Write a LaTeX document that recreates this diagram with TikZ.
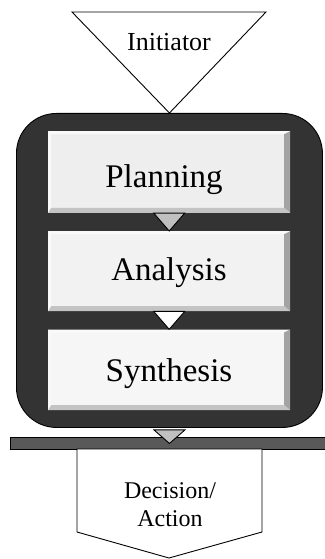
\documentclass[tikz,border=0pt]{standalone}
\usepackage{fontspec}
\setmainfont{Liberation Serif}
\usetikzlibrary{calc}

\definecolor{framefill}{HTML}{333333}
\definecolor{barfill}{HTML}{595959}
\definecolor{faceA}{HTML}{EEEEEE}
\definecolor{faceB}{HTML}{F2F2F2}
\definecolor{faceC}{HTML}{F6F6F6}
\definecolor{bevlight}{HTML}{FAFAFA}
\definecolor{bevright}{HTML}{A3A3A3}
\definecolor{bevbottom}{HTML}{C4C4C4}
\definecolor{arrowgray}{HTML}{C0C0C0}

\tikzset{
  outline/.style={draw=black, line width=0.9pt, line join=miter},
  framebox/.style={rectangle, outline, fill=framefill, rounded corners=40pt,
    minimum width=306pt, minimum height=314pt, anchor=north west, inner sep=0pt},
  bevelbox/.style={rectangle, inner sep=0pt, minimum width=242pt, anchor=north west,
    path picture={
      \coordinate (bbsw) at (path picture bounding box.south west);
      \coordinate (bbne) at (path picture bounding box.north east);
      \coordinate (bbnw) at (bbsw |- bbne);
      \coordinate (bbse) at (bbsw -| bbne);
      \fill[bevlight] (bbnw) -- (bbne) -- ($(bbne)+(-6pt,-3pt)$) -- ($(bbnw)+(3pt,-3pt)$) -- cycle;
      \fill[bevlight] (bbnw) -- ($(bbnw)+(3pt,-3pt)$) -- ($(bbsw)+(3pt,5pt)$) -- (bbsw) -- cycle;
      \fill[bevright] (bbne) -- (bbse) -- ($(bbse)+(-6pt,5pt)$) -- ($(bbne)+(-6pt,-3pt)$) -- cycle;
      \fill[bevbottom] (bbsw) -- (bbse) -- ($(bbse)+(-6pt,5pt)$) -- ($(bbsw)+(3pt,5pt)$) -- cycle;
    }},
  boxtxt/.style={anchor=base, inner sep=0pt, font=\fontsize{33}{38}\selectfont},
  flowtip/.style={outline},
  barbox/.style={rectangle, outline, fill=barfill, minimum width=318pt,
    minimum height=12pt, anchor=north west, inner sep=0pt},
}

\begin{document}
\begin{tikzpicture}[x=1pt, y=-1pt]
  \useasboundingbox (0,0) rectangle (324,559);

  % dark rounded container
  \node[framebox] (frame) at (16,113) {};

  % the three stages
  \node[bevelbox, fill=faceA, minimum height=81.7pt] (plan)  at (48,131)   {};
  \node[bevelbox, fill=faceB, minimum height=80pt]   (anal)  at (48,231)   {};
  \node[bevelbox, fill=faceC, minimum height=80.7pt] (synth) at (48,329.3) {};

  \node[boxtxt] (plantxt)  at (164,187)   {Planning};
  \node[boxtxt] (analtxt)  at (169,280.7) {Analysis};
  \node[boxtxt] (synthtxt) at (169,381.7) {Synthesis};

  % flow markers between stages
  \draw[flowtip, fill=arrowgray]
    ($(plan.south)+(-15.5pt,0pt)$) -- ($(plan.south)+(15.5pt,0pt)$) -- (anal.north) -- cycle;
  \draw[flowtip, fill=white]
    ($(anal.south)+(-15.5pt,0pt)$) -- ($(anal.south)+(15.5pt,0pt)$) -- (synth.north) -- cycle;

  % horizontal bar
  \node[barbox] (bar) at (10,437) {};
  \draw[flowtip, fill=arrowgray]
    ($(frame.south)+(-15.5pt,-2pt)$) -- ($(frame.south)+(15.5pt,-2pt)$) -- (frame.south |- bar.center) -- cycle;

  % initiator triangle
  \coordinate (initL) at (72,12);
  \coordinate (initR) at (266,12);
  \draw[outline, fill=white] (initL) -- (initR) -- (frame.north) -- cycle;
  \node[anchor=base, inner sep=0pt, font=\fontsize{26}{30}\selectfont] (inittxt) at (169,51) {Initiator};

  % decision / action pentagon
  \coordinate (decNW) at (77,449);
  \coordinate (decNE) at (262,449);
  \coordinate (decSE) at (262,532);
  \coordinate (decTip) at (169,558);
  \coordinate (decSW) at (77,532);
  \draw[outline, fill=white] (decNW) -- (decNE) -- (decSE) -- (decTip) -- (decSW) -- cycle;
  \node[anchor=base, inner sep=0pt, align=center, font=\fontsize{24}{28.4}\selectfont]
    (dectxt) at (170,526.7) {Decision/\\Action};
\end{tikzpicture}
\end{document}
